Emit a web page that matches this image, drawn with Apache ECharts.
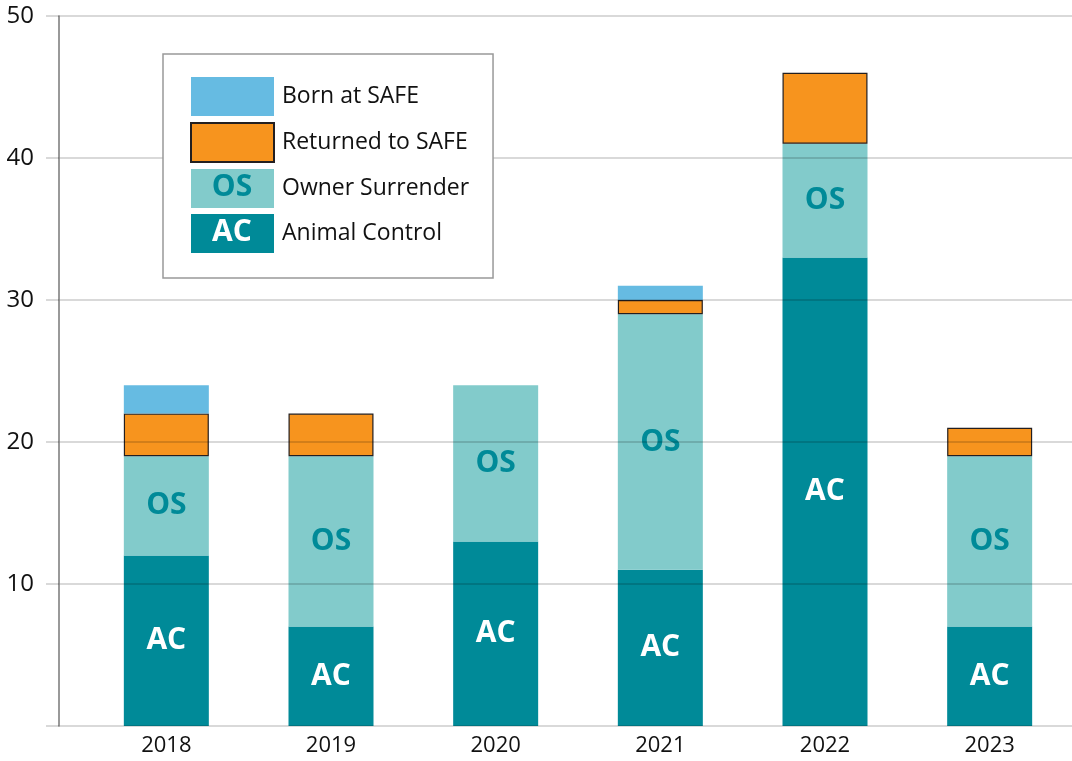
<!DOCTYPE html>
<html>
<head>
<meta charset="utf-8">
<script src="https://cdn.jsdelivr.net/npm/echarts@6/dist/echarts.min.js"></script>
<style>
  html, body { margin: 0; padding: 0; background: #fff; }
  #main { width: 1072px; height: 761px; }
</style>
</head>
<body>
<div id="main"></div>
<script>
// values
var years = ['2018', '2019', '2020', '2021', '2022', '2023'];
var animalControl = [12, 7, 13, 11, 33, 7];
var ownerSurrender = [7, 12, 11, 18, 8, 12];
var returnedToSafe = [3, 3, 0, 1, 5, 2];
var bornAtSafe = [2, 0, 0, 1, 0, 0];
var yTicks = [0, 10, 20, 30, 40, 50];

var FONT = '"Open Sans", "Noto Sans", sans-serif';
var gridColor = 'rgba(0,0,0,0.2)';

var chart = echarts.init(document.getElementById('main'), null, { renderer: 'canvas' });

function nz(arr) {
  return arr.map(function (v) { return v === 0 ? '-' : v; });
}

chart.setOption({
  animation: false,
  backgroundColor: '#fff',
  textStyle: { fontFamily: FONT },
  grid: [
    { left: 59, right: 0, top: 16, bottom: 35 },
    { left: 84, right: -5, top: 16, bottom: 35 }
  ],
  xAxis: [
    { gridIndex: 0, type: 'value', min: 0, max: 1, show: false },
    {
      gridIndex: 1, type: 'category', data: years,
      axisLine: { show: false }, axisTick: { show: false },
      axisLabel: { color: '#111', fontSize: 22, fontFamily: FONT, margin: 9 }
    }
  ],
  yAxis: [
    {
      gridIndex: 0, type: 'value', min: yTicks[0], max: yTicks[yTicks.length - 1], interval: 10,
      z: 5,
      axisLine: { show: true, lineStyle: { color: '#777', width: 1.5 } },
      axisTick: { show: true, length: 13, lineStyle: { color: gridColor, width: 1.5 } },
      splitLine: { show: true, lineStyle: { color: gridColor, width: 1.5 } },
      axisLabel: {
        color: '#111', fontSize: 24, fontFamily: FONT, margin: 25,
        formatter: function (v) { return v === 0 ? '' : String(v); }
      }
    },
    { gridIndex: 1, type: 'value', min: 0, max: 50, interval: 10, show: false, splitLine: { show: false } }
  ],
  legend: {
    orient: 'vertical',
    left: 163, top: 54,
    padding: [23, 24, 25, 27],
    itemWidth: 83, itemHeight: 39, itemGap: 6,
    icon: 'rect',
    backgroundColor: '#fff',
    borderColor: '#999', borderWidth: 1.5,
    z: 10,
    selectedMode: false,
    textStyle: { color: '#111', fontSize: 23, fontFamily: FONT, padding: [0, 0, 0, 3] },
    data: ['Born at SAFE', 'Returned to SAFE', 'Owner Surrender', 'Animal Control']
  },
  series: [
    {
      name: 'Animal Control', type: 'bar', stack: 'all', xAxisIndex: 1, yAxisIndex: 1,
      barWidth: 85, data: animalControl,
      itemStyle: { color: '#008a98' },
      label: {
        show: true, position: 'inside', formatter: 'AC',
        color: '#fff', fontSize: 30, fontWeight: 'bold', fontFamily: FONT
      }
    },
    {
      name: 'Owner Surrender', type: 'bar', stack: 'all', xAxisIndex: 1, yAxisIndex: 1,
      barWidth: 85, data: ownerSurrender,
      itemStyle: { color: '#82cbcb' },
      label: {
        show: true, position: 'inside', formatter: 'OS',
        color: '#008a98', fontSize: 30, fontWeight: 'bold', fontFamily: FONT
      }
    },
    {
      name: 'Returned to SAFE', type: 'bar', stack: 'all', xAxisIndex: 1, yAxisIndex: 1,
      barWidth: 85, data: nz(returnedToSafe),
      itemStyle: { color: '#f7941e', borderColor: '#231f20', borderWidth: 1.2 }
    },
    {
      name: 'Born at SAFE', type: 'bar', stack: 'all', xAxisIndex: 1, yAxisIndex: 1,
      barWidth: 85, data: nz(bornAtSafe),
      itemStyle: { color: '#66bbe2' }
    }
  ],
  graphic: [
    {
      type: 'text', z: 20, x: 232, y: 187,
      style: { text: 'OS', fill: '#008a98', font: 'bold 30px ' + FONT, align: 'center', verticalAlign: 'middle' }
    },
    {
      type: 'text', z: 20, x: 232, y: 232,
      style: { text: 'AC', fill: '#fff', font: 'bold 30px ' + FONT, align: 'center', verticalAlign: 'middle' }
    }
  ]
});
</script>
</body>
</html>
